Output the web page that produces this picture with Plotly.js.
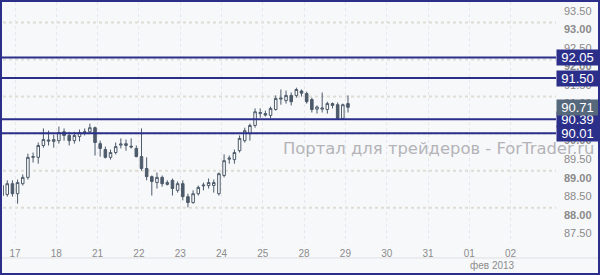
<!DOCTYPE html>
<html><head><meta charset="utf-8">
<script src="https://cdn.plot.ly/plotly-3.0.1.min.js"></script>
<style>
html,body{margin:0;padding:0;background:#f7f8fa;}
#wrap{position:relative;width:600px;height:275px;overflow:hidden;}
#chart{width:600px;height:275px;}
#frame{position:absolute;left:0;top:0;width:600px;height:275px;box-sizing:border-box;border:2px solid #2b2f8a;pointer-events:none;}
</style></head><body>
<div id="wrap"><div id="chart"></div><div id="frame"></div></div>
<script>
// ---- data ----
const dayLabels = ['17','18','21','22','23','24','25','28','29','30','31','01','02'];
const monthLabel = 'фев 2013';
const firstSlot = -3;          // first candle: 3rd 3-hour slot before day "17"
const slotsPerDay = 8;         // 3-hour candles

const open  = [88.60,88.36,88.65,88.38,88.65,88.82,89.36,89.36,89.68,89.83,89.79,89.81,90.05,89.95,89.81,89.92,90.03,90.05,90.16,89.73,89.57,89.36,89.49,89.69,89.68,89.66,89.60,89.38,89.06,88.84,88.68,88.82,88.63,88.74,88.47,88.65,88.30,88.14,88.38,88.59,88.60,88.60,88.38,88.87,89.31,89.30,89.54,89.81,90.00,90.22,90.54,90.54,90.49,90.65,90.93,90.89,91.03,91.03,91.15,91.08,90.92,90.66,90.66,90.65,90.81,90.78,90.41,90.81];
const high  = [88.65,88.74,88.74,88.76,88.90,89.46,89.49,89.76,90.14,90.08,89.97,90.19,90.14,90.05,90.05,90.11,90.14,90.27,90.19,89.81,89.65,89.57,89.76,89.87,89.84,89.87,89.68,90.14,89.36,88.87,88.95,88.87,88.74,88.79,88.71,88.74,88.38,88.47,88.60,88.68,88.79,88.76,88.95,89.44,89.41,89.57,89.95,90.16,90.27,90.68,90.68,90.62,90.73,91.03,91.19,91.16,91.11,91.24,91.19,91.13,90.97,90.76,91.11,90.86,90.84,90.84,90.81,91.03];
const low   = [88.25,88.30,88.30,88.11,88.60,88.76,89.22,89.19,89.62,89.68,89.62,89.73,89.81,89.68,89.73,89.79,89.95,90.00,89.41,89.38,89.33,89.30,89.44,89.60,89.54,89.60,89.36,89.00,88.74,88.33,88.52,88.57,88.60,88.33,88.41,88.20,88.01,88.11,88.33,88.47,88.52,88.41,88.33,88.82,89.19,89.19,89.49,89.76,89.81,90.16,90.43,90.46,90.41,90.62,90.78,90.81,90.76,90.97,91.00,90.81,90.57,90.54,90.57,90.54,90.68,90.41,90.38,90.57];
const close = [88.33,88.65,88.38,88.68,88.82,89.36,89.38,89.68,89.84,89.80,89.84,90.03,89.95,89.81,89.95,90.03,90.05,90.16,89.76,89.60,89.36,89.49,89.65,89.72,89.73,89.64,89.38,89.06,88.84,88.71,88.82,88.65,88.68,88.52,88.65,88.30,88.14,88.38,88.55,88.61,88.68,88.68,88.92,89.27,89.34,89.49,89.87,90.08,90.22,90.59,90.57,90.50,90.68,90.95,90.96,91.03,90.86,91.19,91.09,90.86,90.65,90.72,90.69,90.81,90.76,90.41,90.78,90.71];

const levelValues = [92.05, 91.50, 90.39, 90.01];
const levelLabels = ['92.05', '91.50', '90.39', '90.01'];
const lastPrice = 90.71;
const lastPriceLabel = '90.71';

const yTicks = [87.5, 88.0, 88.5, 89.0, 89.5, 90.0, 90.5, 91.0, 91.5, 92.0, 92.5, 93.0, 93.5];
const yTickText = ['87.50','<b>88.00</b>','88.50','<b>89.00</b>','89.50','<b>90.00</b>','90.50','<b>91.00</b>','91.50','<b>92.00</b>','92.50','<b>93.00</b>','93.50'];
const watermark = 'Портал для трейдеров - ForTrader.ru';

// ---- styles ----
const NAVY = '#2b2f8a';
const CANDLE = '#4c5a6a';
const slot = open.map((_, i) => (i + firstSlot + 0.5) / slotsPerDay);
const dayTicks = dayLabels.map((_, i) => i);

const shapes = [];
yTicks.filter(v => Number.isInteger(v)).forEach(v => shapes.push({
  type:'line', xref:'paper', x0:0, x1:1, yref:'y', y0:v, y1:v, layer:'below',
  line:{color:'#dedcd4', width:2, dash:'3px,3px'}
}));
levelValues.forEach(v => shapes.push({
  type:'line', xref:'paper', x0:-0.02, x1:1.0, yref:'y', y0:v, y1:v,
  line:{color:NAVY, width:2}
}));
shapes.push({type:'line', xref:'paper', x0:-0.02, x1:1.1, yref:'paper', y0:-0.062, y1:-0.062,
  line:{color:'#e0e0e4', width:1}});

const boxFont = {family:'Liberation Sans Narrow, Liberation Sans, Arial', size:13, color:'#ffffff'};
const annotations = [];
annotations.push({
  xref:'paper', x:1.0741, xanchor:'right', yref:'paper', y:0.394, yanchor:'middle',
  text:watermark, showarrow:false, font:{family:'DejaVu Sans', size:16.4, color:'#b4b4b8'}
});
levelValues.forEach((v, i) => annotations.push({
  xref:'paper', x:1.0, xanchor:'left', yref:'y', y:v, yanchor:'middle',
  text: levelLabels[i], showarrow:false, bgcolor:NAVY, font:boxFont,
  width:39, height:13, borderpad:1, align:'center'
}));
annotations.push({
  xref:'paper', x:1.0, xanchor:'left', yref:'y', y:lastPrice, yanchor:'middle',
  text:lastPriceLabel, showarrow:false, bgcolor:'#56687b', font:boxFont,
  width:39, height:13, borderpad:1, align:'center'
});
annotations.push({
  xref:'x', x:11, xanchor:'left', xshift:-1, yref:'paper', y:-0.095, yanchor:'middle',
  text:monthLabel, showarrow:false, font:{family:'Liberation Sans, Arial', size:10, color:'#8c8c8c'}
});

const trace = {
  type:'candlestick', x:slot, open:open, high:high, low:low, close:close,
  increasing:{line:{color:CANDLE, width:1}, fillcolor:'#ffffff'},
  decreasing:{line:{color:CANDLE, width:1}, fillcolor:CANDLE},
  whiskerwidth:0, hoverinfo:'skip', showlegend:false
};

const layout = {
  width:600, height:275,
  margin:{l:3, r:44, t:2, b:32, pad:0},
  paper_bgcolor:'#f7f8fa', plot_bgcolor:'#f7f8fa',
  showlegend:false,
  xaxis:{range:[-0.2906, 13.099], tickmode:'array', tickvals:dayTicks, ticktext:dayLabels,
    showgrid:true, gridcolor:'#e6e6ec', griddash:'dot', gridwidth:1,
    zeroline:false, showline:false, ticks:'', ticklabelstandoff:3,
    tickfont:{family:'Liberation Sans, Arial', size:10, color:'#8c8c8c'},
    rangeslider:{visible:false}, fixedrange:true},
  yaxis:{side:'right', range:[87.05, 93.55], tickmode:'array', tickvals:yTicks, ticktext:yTickText,
    showgrid:false, zeroline:false, showline:false, ticks:'',
    ticklabelshift:7, ticklabelstandoff:7,
    tickfont:{family:'Liberation Sans, Arial', size:11, color:'#8a8a8a'}, fixedrange:true},
  shapes:shapes, annotations:annotations
};

Plotly.newPlot('chart', [trace], layout, {staticPlot:true, displayModeBar:false});
</script></body></html>
